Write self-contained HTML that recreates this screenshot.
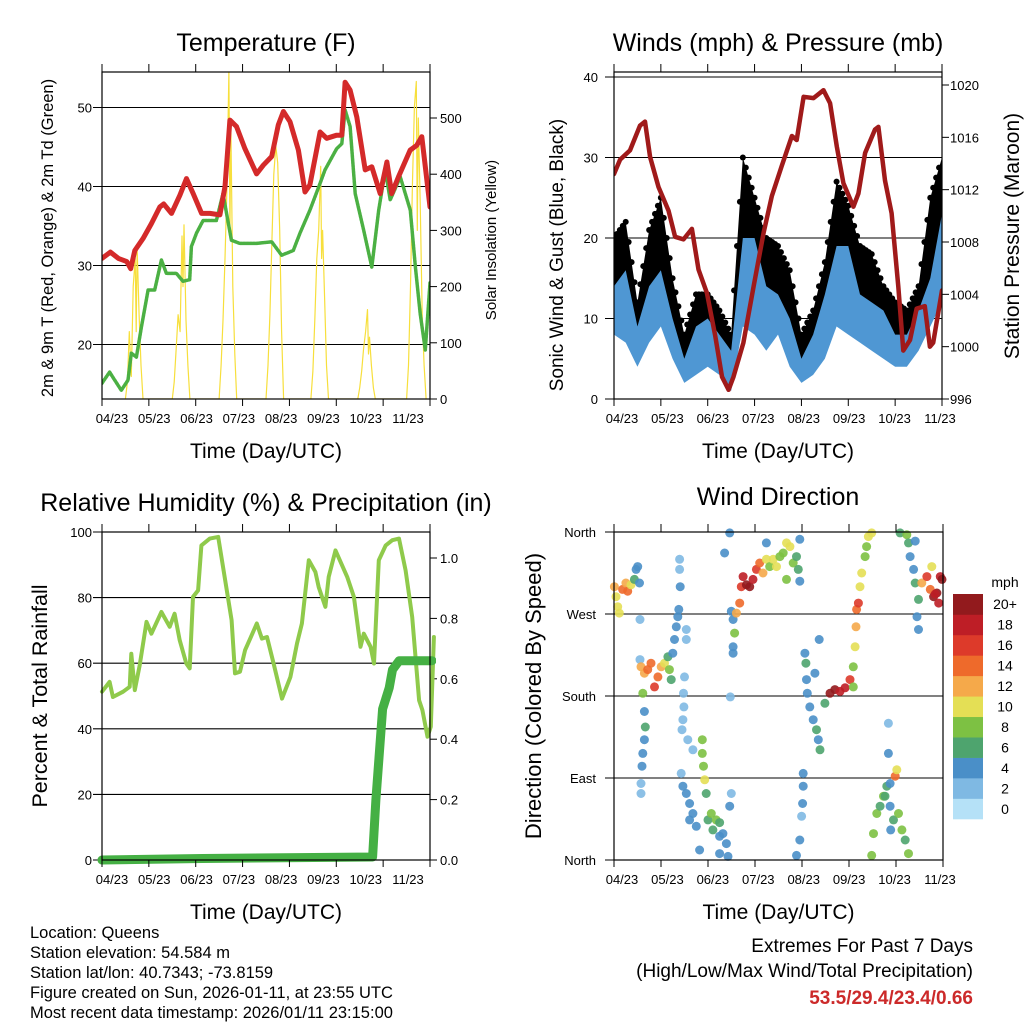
<!DOCTYPE html>
<html><head><meta charset="utf-8"><style>
body{margin:0;background:#fff}
svg text{font-family:"Liberation Sans",sans-serif;fill:#000}
</style></head><body>
<svg id="c" width="1024" height="1024" viewBox="0 0 1024 1024" xmlns="http://www.w3.org/2000/svg"></svg>
<script>
// ---- Temperature panel data (hours since start, values) ----
const tHours=[0,4.3,8.4,12.7,14.7,16.8,21,25.3,29.6,31.6,35.6,39.9,43.3,46.7,51,55.3,60.4,63,65.5,68.9,73.2,79.2,82.6,86.9,90.3,92.9,96.3,100.6,104,106.5,111.7,115.1,120.2,122.8,124.5,127.1,130.5,134.8,138.2,142.5,145.9,148.4,151.8,157.8,161.2,163.8,168];
const tRed=[30.9,31.7,30.9,30.5,29.6,31.9,33.4,35.3,37.4,37.8,36.6,38.9,41,39.1,36.6,36.6,36.4,40,48.4,47.6,44.8,41.6,42.7,43.8,47.8,49.5,48.2,44.6,39.3,40.2,46.9,46.1,46.5,46.5,53.2,52.2,48.8,42.1,42.5,39.1,43.1,39.1,41.2,44.6,45.2,46.3,37.4];
const tdHours=[0,3.9,6.5,9.9,13.3,15,17.6,20.2,23.6,27,30.4,33,38.1,41.5,44.9,45.8,48.4,51.8,58.6,62,66.3,70.6,79.2,86.9,92,98,101.4,106.5,111.7,114.2,120.2,122.8,124.5,127.1,129.7,134,138.2,141.7,145.1,147.6,152.8,157.9,160.5,163,165.6,168];
const tdGreen=[15.1,16.5,15.5,14.2,15.5,18.9,18.4,22.2,26.9,26.9,30.7,29,29,28,28.2,32.4,34.1,35.7,35.7,39.1,33.2,32.8,32.8,33,31.3,31.9,34.1,37,40.4,42.1,44.8,45.4,49.7,47.6,39.1,34.5,29.8,37,42.1,38.3,41.2,37,29.8,23.9,19.3,27.8];
const solarHours=[12,13,14,15,16,17,17.5,18,19,20,21, 36,37,38,39,40,41,41.5,42,43,44,45, 60,61,62,63,64,65,65.5,66,67,68,69, 84,85,86,87,88,89,90,91,92,93, 107,108,109,110,111,112,112.5,113,114,115,116, 131,132,133,134,135,136,136.5,137,138,139,140, 156,157,158,159,160,161,161.5,162,163,164,165,166];
const solarVals=[0,30,120,40,200,250,120,270,150,60,0, 0,30,90,150,120,290,200,310,140,60,0, 0,60,140,250,380,584,300,480,200,80,0, 0,60,150,280,400,450,420,300,120,0, 0,50,140,250,300,414,250,300,180,60,0, 0,20,50,90,120,159,80,110,60,20,0, 0,60,200,380,520,565,300,500,350,150,60,0];
// ---- Winds panel ----
const wHours=[0,6,12,18,24,30,36,42,48,54,60,66,72,78,84,90,96,102,108,114,120,126,132,138,144,150,156,162,168];
const windLo=[8,7,4,7,9,5,2,3,4,3,1,9,8,6,8,4,2,3,5,9,8,7,6,5,4,4,6,9,12];
const windHi=[14,16,9,14,16,10,5,9,10,8,6,20,20,14,13,10,5,8,13,19,19,13,12,11,8,8,11,15,23];
const gustLo=[12,11,5,12,14,8,4,7,7,5,3,14,13,10,12,6,4,5,9,15,13,10,9,8,6,7,9,12,17];
const gustHi=[20,22,12,21,25,15,8,13,13,11,8,30,25,20,19,16,8,11,17,27,24,19,18,14,12,11,14,25,30];
const pHours=[0,3.1,8.2,13.3,15.9,18.5,22.8,27.9,31.3,35.6,39.9,43.3,47.6,51.9,55.3,58.7,61.2,66.3,71.5,76.6,80.8,85.9,91.1,93.6,97.1,102.2,107.3,110.7,114.1,117.5,122.6,125.2,128.6,133.7,135.4,138.8,142.2,145.6,148.2,151.6,155,159.2,161.8,163.5,168];
const pressure=[1013.2,1014.3,1015,1016.9,1017.2,1014.5,1012.2,1010.4,1008.4,1008.2,1009,1005.9,1004.1,1000.8,997.7,996.7,997.7,1000.3,1004.6,1008.7,1011.5,1013.8,1016.1,1015.8,1019.1,1019,1019.6,1018.6,1015.3,1012.5,1010.7,1011.7,1014.8,1016.6,1016.8,1012.7,1010.2,1004.6,999.7,1000.5,1002.9,1003.1,1000,1000.3,1004.3];
// ---- RH / precip ----
const rhHours=[0,3.9,5.6,10.8,14.2,15,16.8,19.3,22.8,25.3,30.4,34.7,37.2,39.8,43.2,44.9,46.6,49.2,50.9,55.2,59.5,66.4,68.1,70.7,73.3,75.9,79.3,81.9,84.5,87.9,92.2,96.5,99.9,102.4,105.9,109.3,111,114.4,116.1,119.6,125.6,129,132.4,134.1,137.6,139.3,141.8,145.3,148.7,152.1,155.5,158.9,162.4,164.1,166.7,168.4,170];
const rhVals=[51.3,54.3,49.7,51.3,52.8,62.9,51.8,59.4,72.6,69,75.6,71.1,75.1,67,59.9,58.4,80.2,82.2,95.9,98,98.5,73.1,56.9,57.4,64,67.5,72.1,67.5,68,59.9,49.2,55.8,66,72.1,91.4,87.8,83.2,77.2,86.3,94.4,86.3,80.2,65,69,65,59.9,91.4,95.9,97.5,98,88.3,74.1,48.7,45.7,37.6,40.6,68];
const prHours=[0,51.5,138.6,140.3,143.7,147.1,148.8,152.2,169];
const precip=[0,0.005,0.01,0.2,0.5,0.57,0.63,0.66,0.66];
// ---- Wind direction scatter ----
const wdHours=[0.2,1,1.9,2.7,4.4,6.1,7,8.7,10.4,11.3,12.1,13,13.3,13.3,13.8,15.5,17.2,18.9,20.7,22.4,24.1,25.8,27.5,28.3,29.2,30,30.9,31.8,32.6,33.1,14.7,15.5,16,15.5,14.7,14.3,13.8,13.8,33.5,33.5,33.8,36.9,36.9,36,35.5,35.7,35.2,34.7,37.7,40.3,34.3,35.2,36.9,38.6,40.3,42,43.7,38.6,45.1,45.1,45.7,46.3,47.1,48,49.7,52.2,53.9,55.6,57.4,58.2,59.1,50.5,53.9,53.9,59.1,56.5,59.9,60.8,61.6,60.8,60.8,62.5,64.2,65,65.9,67.6,69.3,71,72.7,74.4,76.1,77.8,79.5,81.3,83,84.7,86.4,88.1,89.8,91.5,93.2,94.1,94.9,94.9,88.1,77.8,59.4,59.9,97.5,98,98.3,98.7,100,101.7,103.4,104.3,104.8,102.6,105.2,96.6,96.6,96.3,95.8,94.9,93.2,107.7,110.3,112.8,115.4,118,120.5,122.2,122.2,123.1,123.6,123.9,124.8,125.6,126.5,128.2,129,129.9,131.6,131.6,132.5,134.2,135.9,137.6,139.3,141,143.6,144.4,141,142.7,145.3,147,148.7,150.4,140.1,140.1,138.4,141.3,146.1,149.5,150.4,151.2,153,153.8,155.5,154.7,155.5,157.2,159.8,161.5,163.2,164.9,166.6,165.8,167.5,164,153.8,162.3];
const wdDir=[300,289,278,271,297,304,295,302,308,319,322,304,264,220,212,205,209,216,190,201,212,216,223,209,198,227,242,256,267,275,183,163,146,132,117,103,84,73,330,319,300,253,242,201,183,168,154,143,132,121,95,81,73,62,51,37,11,44,132,117,103,88,73,44,51,44,41,29,18,4,59,33,26,7,359,337,273,264,249,234,227,271,282,300,311,302,300,308,319,326,315,330,322,330,322,333,337,348,344,326,333,319,352,306,308,348,179,73,227,216,198,183,168,154,143,132,242,205,121,95,81,62,48,22,5,172,183,187,185,189,198,190,212,234,256,275,282,300,315,333,344,355,359,5,29,51,59,70,81,84,92,99,59,44,51,33,22,7,150,117,70,33,359,357,348,333,319,304,286,267,253,304,311,297,289,293,311,282,308,292,350,322];
const wdSpeed=[12,10,10,10,14,13,14,10,6,4,4,4,2,2,12,12,14,14,16,14,12,10,6,8,6,4,4,4,4,4,8,4,6,4,4,4,2,2,2,2,4,2,2,2,2,2,2,2,2,2,2,4,4,4,4,4,4,4,8,8,8,10,6,6,8,8,6,4,4,4,4,6,4,4,4,4,4,4,8,4,4,12,14,16,18,20,20,18,16,14,12,10,8,10,10,8,8,10,10,8,6,6,4,4,8,4,2,2,4,6,4,4,4,4,6,4,4,4,6,4,4,4,2,4,4,6,20,20,18,18,16,8,8,10,12,14,16,10,10,8,8,10,10,8,8,8,6,8,6,4,14,10,4,6,8,8,6,8,2,4,6,4,6,8,6,4,4,6,6,4,4,12,16,14,20,20,18,18,20,18,4,10];
const windColors=['#b5e1f7','#7fb9e3','#4a8fc8','#4ea46e','#7dc143','#e4df55','#f5a94a','#ee6a2b','#dd3a2a','#be1e26','#921a1d'];
const cbLabels=['0','2','4','6','8','10','12','14','16','18','20+'];
const xLabels=['04/23','05/23','06/23','07/23','08/23','09/23','10/23','11/23'];
const tempTicks=[20,30,40,50], solarTicks=[0,100,200,300,400,500];
const windTicks=[0,10,20,30,40], presTicks=[996,1000,1004,1008,1012,1016,1020];
const rhTicks=[0,20,40,60,80,100], prTicks=[0,0.2,0.4,0.6,0.8,1.0];
const dirTicks=[0,90,180,270,360], dirLabels=['North','East','South','West','North'];

const svg=document.getElementById('c');
const NS='http://www.w3.org/2000/svg';
function mk(tag,attrs,name,parent){const e=document.createElementNS(NS,tag);for(const k in attrs)e.setAttribute(k,attrs[k]);


(parent||svg).appendChild(e);return e;}
function txt(x,y,s,size,anchor,name,extra){const t=mk('text',Object.assign({x:x,y:y,'font-size':size,'text-anchor':anchor||'middle'},extra||{}),name);t.textContent=s;return t;}
function lin(d0,d1,r0,r1){return v=>r0+(v-d0)/(d1-d0)*(r1-r0);}
function poly(xs,ys,fx,fy,style,name){const pts=xs.map((h,i)=>fx(h).toFixed(1)+','+fy(ys[i]).toFixed(1)).join(' ');return mk('polyline',Object.assign({points:pts,fill:'none','stroke-linejoin':'round','stroke-linecap':'round'},style),name);}
function band(xs,lo,hi,fx,fy,fill,name){const a=xs.map((h,i)=>fx(h)+','+fy(hi[i]));const b=xs.map((h,i)=>fx(h)+','+fy(lo[i])).reverse();return mk('polygon',{points:a.concat(b).join(' '),fill:fill},name);}

function frame(L,T,R,B,labelX0,labelX1,name){
  mk('rect',{x:L,y:T,width:R-L,height:B-T,fill:'none',stroke:'#000','stroke-width':1.2},name+'-frame');
  for(let i=0;i<8;i++){const x=L+i*(R-L)/7;
    mk('line',{x1:x,y1:T,x2:x,y2:T-8,stroke:'#000','stroke-width':1},name+'-top-tick');
    mk('line',{x1:x,y1:B,x2:x,y2:B+7,stroke:'#000','stroke-width':1},name+'-bottom-tick');
    txt(labelX0+i*(labelX1-labelX0)/7,B+24,xLabels[i],13,'middle',name+'-x-tick-label');}
  txt((L+R)/2,B+59,'Time (Day/UTC)',21,'middle',name+'-x-axis-title');
}
function hgrid(L,R,ys,fy,name){ys.forEach(v=>mk('line',{x1:L-9,y1:fy(v),x2:R,y2:fy(v),stroke:'#000','stroke-width':1.1},name));}

// ===== Panel 1: Temperature =====
{const L=102,R=430,T=72,B=399;const fx=lin(0,168,L,R),fy=lin(20,50,344.5,107.5),fs=lin(0,500,399,118);
const cl=mk('clipPath',{id:'c1'},'clip1');mk('rect',{x:L,y:T,width:R-L,height:B-T},'clip1-rect',cl);
txt(266,51,'Temperature (F)',25,'middle','temperature-title');
hgrid(L,R,tempTicks,fy,'temp-gridline');
tempTicks.forEach(v=>txt(92,fy(v)+5,String(v),13,'end','temp-y-tick-label'));
solarTicks.forEach(v=>{mk('line',{x1:R,y1:fs(v),x2:R+7,y2:fs(v),stroke:'#000'},'solar-tick');txt(440,fs(v)+5,String(v),13,'start','solar-y-tick-label');});
poly(solarHours,solarVals,fx,fs,{stroke:'#f7df3c','stroke-width':1.2,'clip-path':'url(#c1)'},'solar-line');
poly(tdHours,tdGreen,fx,fy,{stroke:'#4bb043','stroke-width':3.5,'stroke-dasharray':'2 1.2','clip-path':'url(#c1)'},'dewpoint-line');
poly(tHours,tRed,fx,fy,{stroke:'#d42a2a','stroke-width':5,'clip-path':'url(#c1)'},'temperature-line');
frame(L,T,R,B,112,408,'temp');
txt(53,238,'2m & 9m T (Red, Orange) & 2m Td (Green)',16.5,'middle','temp-y-axis-title',{transform:'rotate(-90 53 238)'});
txt(496,240,'Solar Insolation (Yellow)',15,'middle','solar-y-axis-title',{transform:'rotate(-90 496 240)'});}

// ===== Panel 2: Winds =====
{const L=614,R=942,T=72,B=399;const fx=lin(0,168,L,R),fy=lin(0,40,399,77),fp=lin(996,1020,399,85);
const cl=mk('clipPath',{id:'c2'},'clip2');mk('rect',{x:L,y:T,width:R-L,height:B-T},'clip2-rect',cl);
txt(778,51,'Winds (mph) & Pressure (mb)',25,'middle','winds-title');
hgrid(L,R,windTicks,fy,'wind-gridline');
windTicks.forEach(v=>txt(598,fy(v)+5,String(v),13,'end','wind-y-tick-label'));
presTicks.forEach(v=>{mk('line',{x1:R,y1:fp(v),x2:R+7,y2:fp(v),stroke:'#000'},'pressure-tick');txt(950,fp(v)+5,String(v),13,'start','pressure-y-tick-label');});
const g=mk('g',{'clip-path':'url(#c2)'},'wind-series');
const gb=band(wHours,gustLo,gustHi,fx,fy,'#000','gust-band');g.appendChild(gb);
for(let i=0;i<wHours.length-1;i++){for(let k=0;k<4;k++){const f=k/4;
  const h=wHours[i]+f*(wHours[i+1]-wHours[i]);
  const v=gustHi[i]+f*(gustHi[i+1]-gustHi[i]);
  mk('circle',{cx:fx(h),cy:fy(v),r:3,fill:'#000'},'gust-point',g);}}
const wb=band(wHours,windLo,windHi,fx,fy,'#4f97d3','wind-band');g.appendChild(wb);
const pl=poly(pHours,pressure,fx,fp,{stroke:'#a01a1a','stroke-width':4.5},'pressure-line');g.appendChild(pl);
frame(L,T,R,B,622,940,'winds');
txt(563,255,'Sonic Wind & Gust (Blue, Black)',19,'middle','wind-y-axis-title',{transform:'rotate(-90 563 255)'});
txt(1019,236,'Station Pressure (Maroon)',21,'middle','pressure-y-axis-title',{transform:'rotate(-90 1019 236)'});}

// ===== Panel 3: RH & precip =====
{const L=102,R=430,T=532,B=860;const fx=lin(0,168,L,R),fy=lin(0,100,860,532),fp=lin(0,1,860,558);
const cl=mk('clipPath',{id:'c3'},'clip3');mk('rect',{x:L-6,y:T,width:R-L+12,height:B-T+6},'clip3-rect',cl);
txt(266,511,'Relative Humidity (%) & Precipitation (in)',25,'middle','rh-precip-title');
hgrid(L,R,rhTicks,fy,'rh-gridline');
rhTicks.forEach(v=>txt(92,fy(v)+5,String(v),13,'end','rh-y-tick-label'));
prTicks.forEach(v=>{mk('line',{x1:R,y1:fp(v),x2:R+7,y2:fp(v),stroke:'#000'},'precip-tick');txt(440,fp(v)+5,v.toFixed(1),13,'start','precip-y-tick-label');});
poly(rhHours,rhVals,fx,fy,{stroke:'#8fca4b','stroke-width':4,'clip-path':'url(#c3)'},'rh-line');
poly(prHours,precip,fx,fp,{stroke:'#45b044','stroke-width':9,'clip-path':'url(#c3)'},'precip-line');
frame(L,T,R,B,112,408,'rh');
txt(47,696,'Percent & Total Rainfall',21.5,'middle','rh-y-axis-title',{transform:'rotate(-90 47 696)'});}

// ===== Panel 4: Wind Direction =====
{const L=614,R=943,T=532,B=860;const fx=lin(0,168,L,R),fy=lin(0,360,860,532);
txt(778,505,'Wind Direction',25,'middle','wind-direction-title');
dirTicks.forEach((v,i)=>{mk('line',{x1:L-9,y1:fy(v),x2:R,y2:fy(v),stroke:'#000','stroke-width':1.1},'direction-gridline');txt(596,fy(v)+5,dirLabels[i],13,'end','direction-y-tick-label');});
wdHours.forEach((h,i)=>{const b=Math.min(10,Math.floor(wdSpeed[i]/2));
  const c=mk('circle',{cx:fx(h).toFixed(1),cy:fy(wdDir[i]).toFixed(1),r:4.5,fill:windColors[b],'fill-opacity':0.9},'direction-point');});
frame(L,T,R,B,622,940,'direction');
txt(541,696,'Direction (Colored By Speed)',22,'middle','direction-y-axis-title',{transform:'rotate(-90 541 696)'});
const cbT=594,cbH=225/11;
txt(1005,587,'mph',14,'middle','colorbar-title');
windColors.forEach((col,i)=>{const y=cbT+(10-i)*cbH;mk('rect',{x:953,y:y,width:30,height:cbH+0.3,fill:col},'colorbar-swatch');
  txt(1005,y+cbH/2+5,cbLabels[i],14,'middle','colorbar-label');});}

// ===== Footer =====
['Location: Queens','Station elevation: 54.584 m','Station lat/lon: 40.7343; -73.8159','Figure created on Sun, 2026-01-11, at 23:55 UTC','Most recent data timestamp: 2026/01/11 23:15:00'].forEach((s,i)=>txt(30,938+i*20,s,16.5,'start','footer-info-line'));
txt(973,952,'Extremes For Past 7 Days',19,'end','extremes-title');
txt(973,977,'(High/Low/Max Wind/Total Precipitation)',19,'end','extremes-subtitle');
txt(973,1004,'53.5/29.4/23.4/0.66',19,'end','extremes-values',{'font-weight':'bold',style:'fill:#cc2a2a'});
</script>
</body></html>
